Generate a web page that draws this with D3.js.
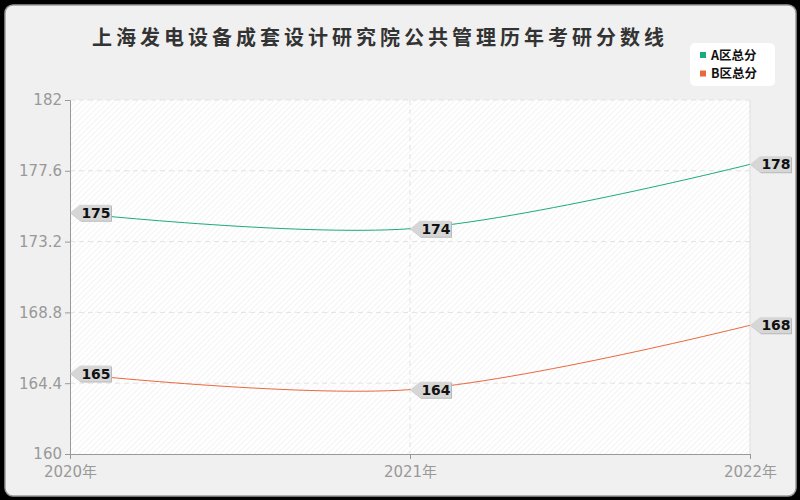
<!DOCTYPE html>
<html lang="zh">
<head>
<meta charset="UTF-8">
<script src="https://d3js.org/d3.v7.min.js"></script>
<style>
    body { margin: 0; background: #000; }
    text { font-family: "Noto Sans CJK SC", "DejaVu Sans", sans-serif; }
</style>
</head>
<body>
<svg width="800" height="500"></svg>
<script>
    // 数据
    const years = ["2020年", "2021年", "2022年"];
    const seriesNames = ["A区总分", "B区总分"];
    const seriesA = [175, 174, 178];
    const seriesB = [165, 164, 168];
    const yTicks = [160, 164.4, 168.8, 173.2, 177.6, 182];
    const colors = ["#1bab7c", "#e8693b"];

    const svg = d3.select("svg");
    const margin = { top: 100, right: 50, bottom: 46, left: 70 };
    const W = 800, H = 500;
    const width = W - margin.left - margin.right,
          height = H - margin.top - margin.bottom;

    // 外框
    svg.append("rect")
        .attr("x", 5).attr("y", 5)
        .attr("width", W - 9).attr("height", H - 9)
        .attr("rx", 8)
        .attr("fill", "#f0f0f0")
        .attr("stroke", "#9a9a9a")
        .attr("stroke-width", 1.5);

    // 斜线底纹
    const defs = svg.append("defs");
    const pat = defs.append("pattern")
        .attr("id", "hatch")
        .attr("width", 4).attr("height", 4)
        .attr("patternUnits", "userSpaceOnUse")
        .attr("patternTransform", "rotate(45)");
    pat.append("rect").attr("width", 4).attr("height", 4).attr("fill", "#ffffff");
    pat.append("line")
        .attr("x1", 0).attr("y1", 0).attr("x2", 0).attr("y2", 4)
        .attr("stroke", "#ececec").attr("stroke-width", 1.2);

    const g = svg.append("g").attr("transform", `translate(${margin.left},${margin.top})`);

    g.append("rect")
        .attr("width", width).attr("height", height)
        .attr("fill", "url(#hatch)");

    const x = d3.scalePoint().domain(years).range([0, width]);
    const y = d3.scaleLinear().domain([160, 182]).range([height, 0]);

    // 网格
    g.append("g")
        .selectAll("line")
        .data(yTicks.slice(1))
        .join("line")
        .attr("x1", 0).attr("x2", width)
        .attr("y1", d => y(d)).attr("y2", d => y(d))
        .attr("stroke", "#e2e2e2")
        .attr("stroke-dasharray", "5,4");

    g.append("g")
        .selectAll("line")
        .data(years.slice(1, -1))
        .join("line")
        .attr("x1", d => x(d)).attr("x2", d => x(d))
        .attr("y1", 0).attr("y2", height)
        .attr("stroke", "#e2e2e2")
        .attr("stroke-dasharray", "5,4");

    // 右侧边线
    g.append("line")
        .attr("x1", width).attr("x2", width)
        .attr("y1", 0).attr("y2", height)
        .attr("stroke", "#dddddd");

    // 坐标轴
    const yAxis = g.append("g")
        .call(d3.axisLeft(y).tickValues(yTicks).tickSize(5).tickPadding(3).tickFormat(d => d));
    const xAxis = g.append("g")
        .attr("transform", `translate(0,${height})`)
        .call(d3.axisBottom(x).tickSize(5).tickPadding(7));

    [yAxis, xAxis].forEach(a => {
        a.select(".domain").attr("stroke", "#999");
        a.selectAll(".tick line").attr("stroke", "#999");
        a.selectAll(".tick text")
            .attr("fill", "#999")
            .style("font-size", "15px")
            .style("font-family", "'DejaVu Sans', 'Noto Sans CJK SC', sans-serif");
    });
    // 2020年 与 160 靠得太近，略向下
    xAxis.selectAll(".tick line").attr("y2", 5);

    // 折线
    const line = d3.line()
        .x((d, i) => x(years[i]))
        .y(d => y(d))
        .curve(d3.curveCatmullRom.alpha(0.5));

    const allSeries = [seriesA, seriesB];
    allSeries.forEach((s, k) => {
        g.append("path")
            .datum(s)
            .attr("fill", "none")
            .attr("stroke", colors[k])
            .attr("stroke-width", 1)
            .attr("d", line);
    });

    // 数值标签
    allSeries.forEach(s => {
        const lab = g.append("g")
            .selectAll("g")
            .data(s)
            .join("g")
            .attr("transform", (d, i) => `translate(${x(years[i])},${y(d)})`);
        lab.append("path")
            .attr("d", "M1,1 L11,-7 L42,-7 L42,9 L11,9 Z")
            .attr("fill", "#b8b8b8");
        lab.append("path")
            .attr("d", "M0,0 L10,-8 L41,-8 L41,8 L10,8 Z")
            .attr("fill", "#d6d6d6");
        lab.append("text")
            .attr("x", 26).attr("y", 5)
            .attr("text-anchor", "middle")
            .attr("fill", "#111")
            .style("font-family", "'DejaVu Sans', sans-serif")
            .style("font-weight", "bold")
            .style("font-size", "14px")
            .text(d => d);
    });

    // 标题
    svg.append("text")
        .attr("x", 92).attr("y", 45)
        .attr("fill", "#333")
        .style("font-size", "20px")
        .style("font-weight", "bold")
        .style("letter-spacing", "4px")
        .text("上海发电设备成套设计研究院公共管理历年考研分数线");

    // 图例
    const leg = svg.append("g").attr("transform", "translate(690,43)");
    leg.append("rect")
        .attr("width", 85).attr("height", 43)
        .attr("rx", 5)
        .attr("fill", "#ffffff");
    seriesNames.forEach((n, k) => {
        leg.append("rect")
            .attr("x", 10).attr("y", 12 + k * 18.5 - 3)
            .attr("width", 6).attr("height", 6)
            .attr("fill", colors[k]);
        leg.append("text")
            .attr("x", 21).attr("y", 12 + k * 18.5 + 4.5)
            .attr("fill", "#111")
            .style("font-size", "12.5px")
            .style("font-weight", "bold")
            .text(n);
    });
</script>
</body>
</html>
